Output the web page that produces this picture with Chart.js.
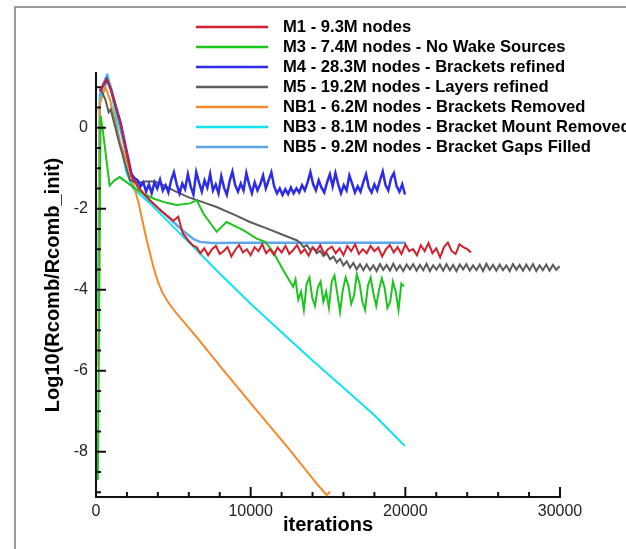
<!DOCTYPE html>
<html>
<head>
<meta charset="utf-8">
<script src="https://cdn.jsdelivr.net/npm/chart.js@4.4.0/dist/chart.umd.min.js"></script>
<style>
  html, body { margin: 0; padding: 0; background: #fff; }
  #wrap { width: 626px; height: 549px; }
</style>
</head>
<body>
<div id="wrap"><canvas id="resChart" width="626" height="549"></canvas></div>
<script>
/*******************************************************
 *            Convergence history - residuals
 *******************************************************/
const FONT = "'Liberation Sans', Arial, Helvetica, sans-serif";

const labels = [
   "M1 - 9.3M nodes",
   "M3 - 7.4M nodes - No Wake Sources",
   "M4 - 28.3M nodes - Brackets refined",
   "M5 - 19.2M nodes - Layers refined",
   "NB1 - 6.2M nodes - Brackets Removed",
   "NB3 - 8.1M nodes - Bracket Mount Removed",
   "NB5 - 9.2M nodes - Bracket Gaps Filled",
];
const colors = ["#d4202c", "#1ec41e", "#2c2ce8", "#5c5c5c", "#f28a2a", "#10e2ee", "#5ea6e8"];
const widths = [2, 2, 2.5, 2, 2, 2, 2.5];

// axis ticks
const xTicks = [0, 10000, 20000, 30000];
const xMinor = [2000, 4000, 6000, 8000, 12000, 14000, 16000, 18000, 22000, 24000, 26000, 28000];
const yTicks = [-8, -6, -4, -2, 0];
const yMinor = [-9, -8.5, -7.5, -7, -6.5, -5.5, -5, -4.5, -3.5, -3, -2.5, -1.5, -1, -0.5, 0.5, 1];

// M1 (red)
const m1X = [250, 700, 1000, 1600, 2300, 2800, 3500, 4200, 5000, 5320, 5600, 6000, 6300];
const m1Y = [0.9, 1.2, 0.9, 0.1, -1.2, -1.5, -1.8, -2.05, -2.3, -2.2, -2.6, -2.8, -2.92];
const m1TailStart = 6500, m1TailStep = 250;
const m1TailY = [
   -2.95, -3.10, -2.98, -3.15, -3.00, -2.92, -3.12, -3.05, -2.95, -3.18, -3.02, -2.90, -3.08, -3.00, -3.15, -2.95, -3.05, -2.88, -3.10, -3.00,
   -3.14, -2.96, -3.08, -2.92, -3.12, -3.02, -2.90, -3.10, -3.00, -3.16, -2.95, -3.05, -2.90, -3.12, -3.00, -2.94, -3.10, -2.98, -3.15, -2.92,
   -3.05, -2.88, -3.12, -3.00, -3.10, -2.92, -3.05, -2.96, -3.18, -3.00, -2.90, -3.08, -2.95, -3.12, -2.88, -3.05, -3.00, -3.15, -2.90, -3.05,
   -2.85, -3.10, -2.98, -3.20, -2.95, -2.84, -3.05, -3.12, -2.88, -2.95, -3.00, -3.08,
];

// M3 (green)
const m3X = [120, 300, 450, 880, 1200, 1530, 2280, 3000, 3790, 4500, 5220, 6080, 6510, 6940, 7800, 8440, 9090, 9520, 10390, 10940, 11460, 12110, 12750];
const m3Y = [-8.7, 0.3, -0.1, -1.43, -1.3, -1.22, -1.43, -1.62, -1.76, -1.85, -1.91, -1.87, -1.79, -2.12, -2.57, -2.33, -2.45, -2.53, -2.74, -2.82, -3.07, -3.52, -3.93];
const m3TailStart = 12900, m3TailStep = 180;
const m3TailY = [
   -3.75, -4.25, -4.05, -4.50, -3.85, -3.70, -4.20, -4.40, -3.95, -3.80, -4.30, -4.05, -4.45, -3.80, -3.65, -4.10, -4.55, -4.00, -3.70, -3.90,
   -4.35, -4.15, -3.62, -3.85, -4.30, -4.50, -3.90, -3.70, -4.10, -4.40, -4.00, -3.72, -3.95, -4.45, -4.30, -3.80, -4.05, -4.50, -3.85, -3.92,
];

// M4 (blue)
const m4X = [250, 700, 1000, 1600, 2300, 2500];
const m4Y = [0.9, 1.2, 0.9, 0.1, -1.15, -1.25];
const m4TailStart = 2700, m4TailStep = 180;
const m4TailY = [
   -1.30, -1.45, -1.35, -1.58, -1.40, -1.62, -1.35, -1.50, -1.28, -1.55, -1.42, -1.60, -1.30, -1.10, -1.40, -1.62, -1.38, -1.52, -1.15, -1.45,
   -1.65, -1.10, -1.35, -1.58, -1.30, -1.48, -1.14, -1.55, -1.40, -1.62, -1.20, -1.48, -1.66, -1.32, -1.08, -1.42, -1.58, -1.38, -1.55, -1.12,
   -1.40, -1.62, -1.35, -1.55, -1.40, -1.18, -1.50, -1.30, -1.10, -1.45, -1.62, -1.50, -1.66, -1.52, -1.64, -1.48, -1.62, -1.50, -1.60, -1.42,
   -1.55, -1.35, -1.10, -1.40, -1.55, -1.30, -1.48, -1.60, -1.35, -1.15, -1.45, -1.12, -1.40, -1.62, -1.42, -1.55, -1.18, -1.38, -1.60, -1.45,
   -1.58, -1.35, -1.15, -1.48, -1.60, -1.40, -1.55, -1.30, -1.08, -1.42, -1.55, -1.25, -1.12, -1.45, -1.58, -1.40, -1.65,
];

// M5 (grey)
const m5X = [300, 600, 820, 950, 1500, 2000, 2200, 2710, 3200, 3790, 4440, 5000, 6000, 7000, 7800, 9000, 9950, 11000, 12110, 12970];
const m5Y = [0.95, 0.7, 0.38, 0.45, -0.38, -1.04, -1.3, -1.36, -1.33, -1.33, -1.43, -1.55, -1.72, -1.85, -1.96, -2.16, -2.33, -2.48, -2.65, -2.78];
const m5TailStart = 13200, m5TailStep = 215;
const m5TailY = [
   -2.84, -2.95, -2.90, -3.02, -2.97, -3.10, -3.04, -3.17, -3.10, -3.25, -3.18, -3.33, -3.24, -3.40, -3.30, -3.46, -3.34, -3.50, -3.37, -3.52,
   -3.38, -3.52, -3.40, -3.54, -3.37, -3.51, -3.39, -3.53, -3.36, -3.52, -3.40, -3.54, -3.38, -3.50, -3.37, -3.53, -3.39, -3.52, -3.36, -3.54,
   -3.40, -3.51, -3.38, -3.53, -3.37, -3.52, -3.39, -3.54, -3.38, -3.50, -3.37, -3.53, -3.40, -3.52, -3.38, -3.54, -3.36, -3.51, -3.39, -3.53,
   -3.38, -3.52, -3.40, -3.54, -3.37, -3.51, -3.39, -3.53, -3.38, -3.52, -3.37, -3.54, -3.40, -3.52, -3.38, -3.53, -3.39, -3.51, -3.42,
];

// NB1 (orange)
const nb1X = [150, 250, 600, 900, 1500, 2000, 2280, 2520, 2740, 3280, 3700, 4000, 4300, 4700, 5220, 6510, 8230, 10390, 12540, 14270, 14910, 15130];
const nb1Y = [-5.9, 0.6, 1.0, 0.7, -0.3, -0.85, -1.22, -1.54, -1.84, -2.78, -3.42, -3.8, -4.08, -4.33, -4.59, -5.17, -5.99, -6.98, -7.96, -8.79, -9.07, -8.99];

// NB3 (cyan)
const nb3X = [130, 250, 600, 750, 1000, 1500, 1960, 2400, 3490, 5000, 6500, 8000, 10000, 12000, 14000, 16000, 18000, 19970];
const nb3Y = [-4.5, 0.7, 1.0, 1.25, 0.9, -0.25, -1.1, -1.5, -1.87, -2.45, -3.02, -3.6, -4.35, -5.05, -5.75, -6.42, -7.1, -7.86];

// NB5 (light blue)
const nb5X = [150, 250, 450, 600, 730, 850, 990, 1300, 1700, 2000, 2300, 2820, 3490, 4500, 5640, 6300, 6720, 7500, 10000, 15000, 20000];
const nb5Y = [-4.3, 0.8, 1.05, 1.2, 1.3, 1.12, 0.96, 0.45, -0.23, -0.72, -1.18, -1.55, -1.8, -2.15, -2.55, -2.75, -2.82, -2.85, -2.84, -2.84, -2.84];

function pts(xs, ys) {
   return xs.map(function (x, i) { return { x: x, y: ys[i] }; });
}
function tail(start, step, ys) {
   return ys.map(function (y, i) { return { x: start + i * step, y: y }; });
}

const seriesData = [
   pts(m1X, m1Y).concat(tail(m1TailStart, m1TailStep, m1TailY)),
   pts(m3X, m3Y).concat(tail(m3TailStart, m3TailStep, m3TailY)),
   pts(m4X, m4Y).concat(tail(m4TailStart, m4TailStep, m4TailY)),
   pts(m5X, m5Y).concat(tail(m5TailStart, m5TailStep, m5TailY)),
   pts(nb1X, nb1Y),
   pts(nb3X, nb3Y),
   pts(nb5X, nb5Y),
];

// frame, inward tick marks and the stacked legend
const decorPlugin = {
   id: "decor",
   afterDraw: function (chart) {
      const ctx = chart.ctx;
      const xs = chart.scales.x;
      const ys = chart.scales.y;
      const a = chart.chartArea;
      ctx.save();

      // outer frame (left + top)
      ctx.strokeStyle = "#9a9a9a";
      ctx.lineWidth = 2;
      ctx.beginPath();
      ctx.moveTo(15, 549);
      ctx.lineTo(15, 7);
      ctx.lineTo(626, 7);
      ctx.stroke();

      // ticks
      ctx.strokeStyle = "#111";
      ctx.lineWidth = 2;
      ctx.beginPath();
      xTicks.forEach(function (v) {
         const px = xs.getPixelForValue(v);
         ctx.moveTo(px, a.bottom);
         ctx.lineTo(px, a.bottom - 10);
      });
      xMinor.forEach(function (v) {
         const px = xs.getPixelForValue(v);
         ctx.moveTo(px, a.bottom);
         ctx.lineTo(px, a.bottom - 5);
      });
      yTicks.forEach(function (v) {
         const py = ys.getPixelForValue(v);
         ctx.moveTo(a.left, py);
         ctx.lineTo(a.left + 10, py);
      });
      yMinor.forEach(function (v) {
         const py = ys.getPixelForValue(v);
         ctx.moveTo(a.left, py);
         ctx.lineTo(a.left + 5, py);
      });
      ctx.stroke();

      // legend
      ctx.font = "bold 16.6px " + FONT;
      ctx.textBaseline = "middle";
      ctx.textAlign = "left";
      chart.data.datasets.forEach(function (ds, i) {
         const ly = 27 + i * 20;
         ctx.strokeStyle = ds.borderColor;
         ctx.lineWidth = 2.5;
         ctx.beginPath();
         ctx.moveTo(196, ly);
         ctx.lineTo(268, ly);
         ctx.stroke();
         ctx.fillStyle = "#000";
         ctx.fillText(ds.label, 283, ly);
      });
      ctx.restore();
   },
};

const resctx = document.getElementById("resChart").getContext("2d");
const resChart = new Chart(resctx, {
   type: "line",
   data: {
      datasets: seriesData.map(function (d, i) {
         return {
            label: labels[i],
            data: d,
            borderColor: colors[i],
            backgroundColor: colors[i],
            borderWidth: widths[i],
            pointRadius: 0,
            tension: 0,
            fill: false,
         };
      }),
   },
   options: {
      responsive: false,
      animation: false,
      layout: { padding: { left: 0, top: 73, right: 66, bottom: 0 } },
      plugins: {
         legend: { display: false },
         tooltip: { enabled: false },
      },
      scales: {
         x: {
            type: "linear",
            min: 0,
            max: 30000,
            afterBuildTicks: function (scale) {
               scale.ticks = xTicks.map(function (v) { return { value: v }; });
            },
            afterFit: function (scale) { scale.height = 52; },
            grid: { display: false, drawTicks: false },
            border: { display: true, color: "#111", width: 2 },
            ticks: {
               padding: 5,
               color: "#222",
               font: { family: FONT, size: 16 },
               maxRotation: 0,
               callback: function (v) { return String(v); },
            },
            title: {
               display: true,
               text: "iterations",
               color: "#000",
               font: { family: FONT, size: 20, weight: "bold", lineHeight: 1.2 },
               padding: { top: 0, bottom: 12 },
            },
         },
         y: {
            type: "linear",
            min: -9.12,
            max: 1.35,
            afterBuildTicks: function (scale) {
               scale.ticks = yTicks.map(function (v) { return { value: v }; });
            },
            afterFit: function (scale) { scale.width = 96; },
            grid: { display: false, drawTicks: false },
            border: { display: true, color: "#111", width: 2 },
            ticks: {
               padding: 8,
               color: "#222",
               font: { family: FONT, size: 16 },
            },
            title: {
               display: true,
               text: "Log10(Rcomb/Rcomb_init)",
               color: "#000",
               font: { family: FONT, size: 20, weight: "bold", lineHeight: 1.2 },
               padding: { top: 41, bottom: 0 },
            },
         },
      },
   },
   plugins: [decorPlugin],
});
</script>
</body>
</html>
